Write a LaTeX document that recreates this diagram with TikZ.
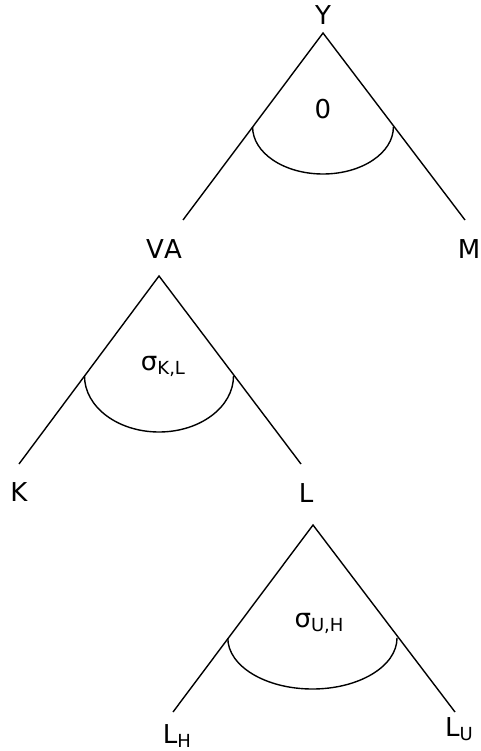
\documentclass[tikz,border=0pt]{standalone}
\usepackage{fontspec}
\setmainfont[Kerning=Off]{DejaVu Sans}
\newcommand{\mysub}[1]{\raisebox{-4.5pt}{\fontsize{18}{21}\selectfont #1}}
\begin{document}
\begin{tikzpicture}[x=1pt,y=1pt,
  lbl/.style={font=\fontsize{26}{30}\selectfont, inner sep=0pt, anchor=base},
  branch/.style={line width=1.4pt},
  angarc/.style={line width=1.4pt}]
\useasboundingbox (0,0) rectangle (480,-751);
% tree 1
\coordinate (a1) at (323,-33);
\coordinate (l1) at (183,-220);
\coordinate (r1) at (465,-220);
\node[lbl] (Y) at (323,-25) {Y};
\node[lbl] (VA) at (164,-258) {VA};
\node[lbl] (M) at (469,-258) {M};
\node[lbl] (s1) at (323,-119) {0};
\draw[branch] (l1) -- (a1) -- (r1);
\draw[angarc] (252.6,-127) arc[start angle=180, end angle=360, x radius=70.4, y radius=47];
% tree 2
\coordinate (a2) at (159,-276);
\coordinate (l2) at (19,-464);
\coordinate (r2) at (301,-464);
\node[lbl] (K) at (19,-501) {K};
\node[lbl] (L) at (306,-502) {L};
\node[lbl] (s2) at (163,-370) {σ\mysub{K,L}};
\draw[branch] (l2) -- (a2) -- (r2);
\draw[angarc] (84.5,-376) arc[start angle=180, end angle=360, x radius=74.5, y radius=56];
% tree 3
\coordinate (a3) at (313,-525);
\coordinate (l3) at (173,-712);
\coordinate (r3) at (455,-712);
\node[lbl] (LH) at (177,-743) {L\mysub{H}};
\node[lbl] (LU) at (459,-736) {L\mysub{U}};
\node[lbl] (s3) at (319,-627) {σ\mysub{U,H}};
\draw[branch] (l3) -- (a3) -- (r3);
\draw[angarc] (227.8,-638) arc[start angle=180, end angle=360, x radius=84.6, y radius=51];
\end{tikzpicture}
\end{document}
